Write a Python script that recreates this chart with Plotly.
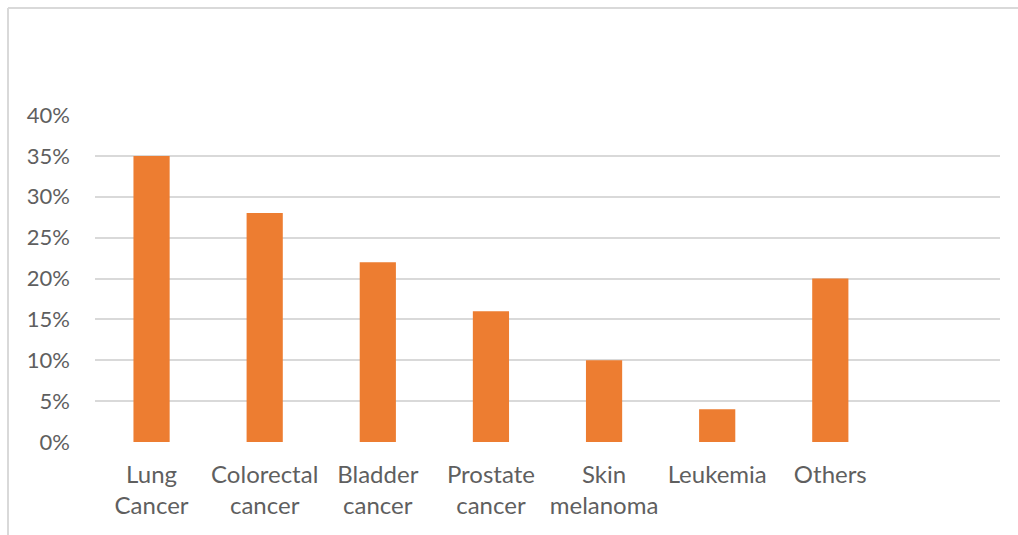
import plotly.graph_objects as go

# Share of cases by cancer type
categories = ["Lung<br>Cancer", "Colorectal<br>cancer", "Bladder<br>cancer",
              "Prostate<br>cancer", "Skin<br>melanoma", "Leukemia", "Others"]
shares = [0.35, 0.28, 0.22, 0.16, 0.10, 0.04, 0.20]
tick_values = [0, 0.05, 0.10, 0.15, 0.20, 0.25, 0.30, 0.35, 0.40]
tick_labels = ["0%", "5%", "10%", "15%", "20%", "25%", "30%", "35%", "40%"]

W, H = 1018, 535
L, R, T, B = 95, 18, 115, 93
pw, ph = W - L - R, H - T - B

fig = go.Figure(go.Bar(
    x=categories, y=shares,
    marker=dict(color="#ED7D31", line=dict(width=0)),
    width=0.32,
))

FAMILY = "Lato, Carlito, Calibri, sans-serif"
YFONT = dict(family=FAMILY, size=22, color="#5f5f5f")
XFONT = dict(family=FAMILY, size=24, color="#5f5f5f")

fig.update_layout(
    width=W, height=H,
    margin=dict(l=L, r=R, t=T, b=B),
    paper_bgcolor="white", plot_bgcolor="white",
    font=YFONT,
    showlegend=False,
    xaxis=dict(
        type="category", range=[-0.5, 7.5],
        showgrid=False, showline=False, zeroline=False,
        ticks="", tickfont=XFONT, ticklabelstandoff=16,
    ),
    yaxis=dict(
        range=[0, 0.4], tickvals=tick_values, ticktext=tick_labels,
        showgrid=True, gridcolor="#d9d9d9", gridwidth=1.5,
        zeroline=False, showline=False, ticks="", ticklabelstandoff=24,
        tickfont=YFONT,
    ),
)

# Outer chart frame (top and left edges)
fx0 = (8 - L) / pw
fy1 = (H - B - 8) / ph
fy0 = -(B + 5) / ph
fx1 = (W + 5 - L) / pw
frame = dict(color="#d9d9d9", width=2)
fig.add_shape(type="line", xref="paper", yref="paper",
              x0=fx0, x1=fx1, y0=fy1, y1=fy1, line=frame)
fig.add_shape(type="line", xref="paper", yref="paper",
              x0=fx0, x1=fx0, y0=fy0, y1=fy1, line=frame)

fig.write_html("out.html")
